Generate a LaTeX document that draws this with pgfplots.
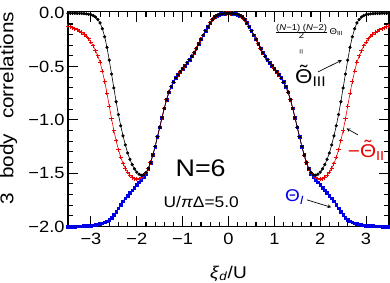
\documentclass[border=0pt]{standalone}
\usepackage{fontspec}
\setmainfont{Liberation Sans}[FakeStretch=1.12]
\usepackage{pgfplots}
\usepackage{pgfplotstable}
\pgfplotsset{compat=1.18}
\definecolor{myred}{RGB}{235,0,0}
\definecolor{myblue}{RGB}{0,0,230}
\newcommand{\tTheta}{\ooalign{Θ\cr\hidewidth\raisebox{0.2em}{˜}\hidewidth\cr}}

\pgfplotstableread{
x blk red blu
-3.50 0.000 -0.120 -2.000
-3.45 0.000 -0.127 -2.000
-3.40 0.000 -0.135 -2.000
-3.35 0.000 -0.145 -2.000
-3.30 -0.001 -0.155 -1.999
-3.25 -0.001 -0.167 -1.998
-3.20 -0.002 -0.180 -1.997
-3.15 -0.003 -0.195 -1.996
-3.10 -0.005 -0.215 -1.995
-3.05 -0.009 -0.240 -1.993
-3.00 -0.013 -0.270 -1.991
-2.95 -0.022 -0.305 -1.988
-2.90 -0.035 -0.350 -1.985
-2.85 -0.058 -0.400 -1.981
-2.80 -0.090 -0.460 -1.976
-2.75 -0.145 -0.545 -1.969
-2.70 -0.220 -0.640 -1.961
-2.65 -0.320 -0.750 -1.950
-2.60 -0.440 -0.870 -1.937
-2.55 -0.570 -0.990 -1.917
-2.50 -0.700 -1.100 -1.892
-2.45 -0.830 -1.195 -1.862
-2.40 -0.950 -1.280 -1.830
-2.35 -1.055 -1.350 -1.795
-2.30 -1.150 -1.410 -1.762
-2.25 -1.235 -1.455 -1.735
-2.20 -1.310 -1.490 -1.710
-2.15 -1.370 -1.518 -1.685
-2.10 -1.420 -1.540 -1.660
-2.05 -1.460 -1.552 -1.635
-2.00 -1.490 -1.555 -1.610
-1.95 -1.510 -1.552 -1.585
-1.90 -1.520 -1.542 -1.560
-1.85 -1.515 -1.525 -1.535
-1.80 -1.495 -1.500 -1.505
-1.75 -1.455 -1.460 -1.460
-1.70 -1.400 -1.400 -1.400
-1.65 -1.330 -1.330 -1.330
-1.60 -1.250 -1.250 -1.250
-1.55 -1.160 -1.160 -1.160
-1.50 -1.070 -1.070 -1.070
-1.45 -0.980 -0.980 -0.980
-1.40 -0.890 -0.890 -0.890
-1.35 -0.810 -0.810 -0.810
-1.30 -0.740 -0.740 -0.740
-1.25 -0.688 -0.688 -0.688
-1.20 -0.645 -0.645 -0.645
-1.15 -0.607 -0.607 -0.607
-1.10 -0.575 -0.575 -0.575
-1.05 -0.547 -0.547 -0.547
-1.00 -0.520 -0.520 -0.520
-0.95 -0.493 -0.493 -0.493
-0.90 -0.465 -0.465 -0.465
-0.85 -0.437 -0.437 -0.437
-0.80 -0.405 -0.405 -0.405
-0.75 -0.370 -0.370 -0.370
-0.70 -0.330 -0.330 -0.330
-0.65 -0.288 -0.288 -0.288
-0.60 -0.245 -0.245 -0.245
-0.55 -0.205 -0.205 -0.205
-0.50 -0.165 -0.165 -0.165
-0.45 -0.127 -0.127 -0.127
-0.40 -0.090 -0.090 -0.090
-0.35 -0.058 -0.058 -0.058
-0.30 -0.035 -0.035 -0.035
-0.25 -0.021 -0.021 -0.021
-0.20 -0.012 -0.012 -0.012
-0.15 -0.006 -0.006 -0.006
-0.10 -0.002 -0.002 -0.002
-0.05 -0.001 -0.001 -0.001
0.00 0.000 0.000 0.000
0.05 -0.001 -0.001 -0.001
0.10 -0.002 -0.002 -0.002
0.15 -0.006 -0.006 -0.006
0.20 -0.012 -0.012 -0.012
0.25 -0.021 -0.021 -0.021
0.30 -0.035 -0.035 -0.035
0.35 -0.058 -0.058 -0.058
0.40 -0.090 -0.090 -0.090
0.45 -0.127 -0.127 -0.127
0.50 -0.165 -0.165 -0.165
0.55 -0.205 -0.205 -0.205
0.60 -0.245 -0.245 -0.245
0.65 -0.288 -0.288 -0.288
0.70 -0.330 -0.330 -0.330
0.75 -0.370 -0.370 -0.370
0.80 -0.405 -0.405 -0.405
0.85 -0.437 -0.437 -0.437
0.90 -0.465 -0.465 -0.465
0.95 -0.493 -0.493 -0.493
1.00 -0.520 -0.520 -0.520
1.05 -0.547 -0.547 -0.547
1.10 -0.575 -0.575 -0.575
1.15 -0.607 -0.607 -0.607
1.20 -0.645 -0.645 -0.645
1.25 -0.688 -0.688 -0.688
1.30 -0.740 -0.740 -0.740
1.35 -0.810 -0.810 -0.810
1.40 -0.890 -0.890 -0.890
1.45 -0.980 -0.980 -0.980
1.50 -1.070 -1.070 -1.070
1.55 -1.160 -1.160 -1.160
1.60 -1.250 -1.250 -1.250
1.65 -1.330 -1.330 -1.330
1.70 -1.400 -1.400 -1.400
1.75 -1.455 -1.460 -1.460
1.80 -1.495 -1.500 -1.505
1.85 -1.515 -1.525 -1.535
1.90 -1.520 -1.542 -1.560
1.95 -1.510 -1.552 -1.585
2.00 -1.490 -1.555 -1.610
2.05 -1.460 -1.552 -1.635
2.10 -1.420 -1.540 -1.660
2.15 -1.370 -1.518 -1.685
2.20 -1.310 -1.490 -1.710
2.25 -1.235 -1.455 -1.735
2.30 -1.150 -1.410 -1.762
2.35 -1.055 -1.350 -1.795
2.40 -0.950 -1.280 -1.830
2.45 -0.830 -1.195 -1.862
2.50 -0.700 -1.100 -1.892
2.55 -0.570 -0.990 -1.917
2.60 -0.440 -0.870 -1.937
2.65 -0.320 -0.750 -1.950
2.70 -0.220 -0.640 -1.961
2.75 -0.145 -0.545 -1.969
2.80 -0.090 -0.460 -1.976
2.85 -0.058 -0.400 -1.981
2.90 -0.035 -0.350 -1.985
2.95 -0.022 -0.305 -1.988
3.00 -0.013 -0.270 -1.991
3.05 -0.009 -0.240 -1.993
3.10 -0.005 -0.215 -1.995
3.15 -0.003 -0.195 -1.996
3.20 -0.002 -0.180 -1.997
3.25 -0.001 -0.167 -1.998
3.30 -0.001 -0.155 -1.999
3.35 0.000 -0.145 -2.000
3.40 0.000 -0.135 -2.000
3.45 0.000 -0.127 -2.000
3.50 0.000 -0.120 -2.000
}\datatable

\begin{document}
\begin{tikzpicture}
\begin{axis}[
  scale only axis, width=321bp, height=214.8bp,
  xmin=-3.5, xmax=3.5, ymin=-2, ymax=0.015,
  xtick={-3,-2,-1,0,1,2,3},
  xticklabels={−3,−2,−1,0,1,2,3},
  ytick={-2,-1.5,-1,-0.5,0},
  yticklabels={−2.0,−1.5,−1.0,−0.5,0.0},
  minor x tick num=4, minor y tick num=4,
  tick align=inside,
  major tick length=10bp, minor tick length=5bp,
  every tick/.style={line width=1.1bp, black},
  axis line style={line width=1.6bp},
  tick label style={font=\fontsize{16.3bp}{19bp}\selectfont},
  xticklabel style={yshift=-3bp},
  yticklabel style={xshift=0bp},
  xlabel={\textit{ξ}\textsubscript{\textit{d}}/U},
  ylabel={3\hspace{0.8em}body\hspace{0.8em}correlations},
  xlabel style={font=\fontsize{17bp}{20bp}\selectfont, at={(axis description cs:0.5,-0.24)}, anchor=base},
  ylabel style={font=\fontsize{18.5bp}{21bp}\selectfont, at={(axis description cs:-0.185,0.55)}, anchor=center},
  clip=false,
]
\addplot[myblue, line width=0.6bp, mark=square*, mark size=1.3bp] table[x=x, y=blu] {\datatable};
\addplot[myred, line width=0.6bp, mark=+, mark size=2.1bp, mark options={line width=1bp}] table[x=x, y=red] {\datatable};
\addplot[black, line width=0.6bp, mark=*, mark size=1.3bp] table[x=x, y=blk] {\datatable};

\node[anchor=base west, font=\fontsize{24bp}{28bp}\selectfont] at (axis cs:-1.23,-1.535) {N=6};
\node[anchor=base west, font=\fontsize{15.5bp}{18bp}\selectfont] at (axis cs:-1.49,-1.826) {U/\textit{π}Δ=5.0};
\node[anchor=base west, myblue, font=\fontsize{17bp}{20bp}\selectfont, inner sep=0pt] at (axis cs:1.23,-1.77) {Θ\textsubscript{\textit{I}}};
\draw[-stealth, line width=0.7bp] (axis cs:1.71,-1.75) -- (axis cs:2.24,-1.82);
\node[anchor=base west, myred, font=\fontsize{18.5bp}{21bp}\selectfont, inner sep=0pt] at (axis cs:2.60,-1.35) {−\tTheta\textsubscript{II}};
\draw[-stealth, line width=0.7bp] (axis cs:2.82,-1.14) -- (axis cs:2.575,-1.08);
\node[anchor=base west, font=\fontsize{20bp}{23bp}\selectfont, inner sep=0pt] at (axis cs:1.45,-0.655) {\tTheta\textsubscript{III}};
\draw[-stealth, line width=0.7bp] (axis cs:1.95,-0.55) -- (axis cs:2.47,-0.44);
\node[rotate=90, font=\fontsize{8bp}{10bp}\selectfont, inner sep=0pt] at (axis cs:1.60,-0.36) {=};
\node[anchor=west, font=\fontsize{8.5bp}{10bp}\selectfont, inner sep=0pt] at (axis cs:1.01,-0.17) {$\frac{\mbox{(\textit{N}−1) (\textit{N}−2)}}{\mbox{2}}$\,Θ\textsubscript{III}};
\end{axis}
\pgfresetboundingbox
\path[use as bounding box] (-68bp,-56.5bp) rectangle (322bp,226.5bp);
\end{tikzpicture}
\end{document}
